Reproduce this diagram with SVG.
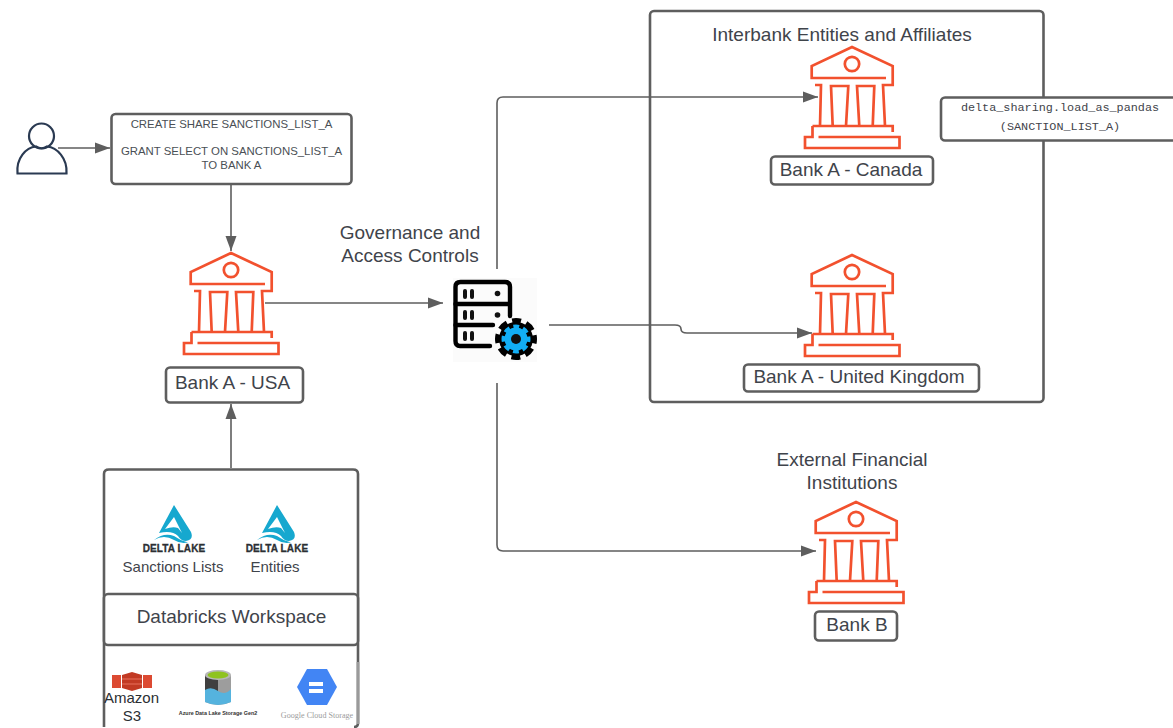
<svg xmlns="http://www.w3.org/2000/svg" width="1173" height="728" viewBox="0 0 1173 728">
<style>
text{font-family:"Liberation Sans",Arial,sans-serif;fill:#3f444b;text-anchor:middle}
.box{fill:#fff;stroke:#5e5e5e;stroke-width:2.6}
.bank{fill:none;stroke:#f2512e;stroke-width:2.7}
.c{fill:none;stroke:#5e5e5e;stroke-width:1.6}
.l{font-size:19px}
.m{font-size:11.4px;fill:#4a4f55}
.mono{font-family:"Liberation Mono",monospace;font-size:11.8px}
.dl{font-size:10px;font-weight:bold;fill:#2b2f33;letter-spacing:.1px;stroke:#2b2f33;stroke-width:.3}
.dm{fill:#16a8cf}
</style>
<defs>
<marker id="a" markerUnits="userSpaceOnUse" markerWidth="16" markerHeight="12" refX="15" refY="6" orient="auto"><path d="M0,0.5L15,6L0,11.5z" fill="#5e5e5e"/></marker>
<symbol id="bankI" overflow="visible" viewBox="-50 -2 100 106" width="100" height="106">
<path class="bank" d="M34,31H-40.3V19L0,0L40.7,19V38H31L33,79M-37,38H-31L-32,79M-19.300,79L-21,39H-3.700L-6,79M7.300,79L5,39H22.300L20.700,79M-39.500,79H40.700V85M-39.500,79V90H-47V101H47.500V90H-33.500"/>
<circle class="bank" cx="0" cy="17" r="7.200"/>
</symbol>
<symbol id="deltaI" overflow="visible" viewBox="0 0 42 38" width="42" height="38">
<path class="dm" fill-rule="evenodd" d="M20,0L37,27Q40,35 32,36Q27,36 24,31Q18,25 5,28ZM20,12L11,24Q19,21 24,23L28,28Z"/>
<path class="dm" d="M0,35Q10,27 20,31Q27,36 34,37.500Q26,39 20,35Q10,29 0,35Z"/>
</symbol>
</defs>

<g id="connectors">
<path class="c" d="M58,148H110" marker-end="url(#a)"/>
<path class="c" d="M231,184V251" marker-end="url(#a)"/>
<path class="c" d="M265,303H443" marker-end="url(#a)"/>
<path class="c" d="M231,468V404" marker-end="url(#a)"/>
<path class="c" d="M497,269V103Q497,97 503,97H818" marker-end="url(#a)"/>
<path class="c" d="M549,325H675Q681,325 681,329Q681,333 687,333H812" marker-end="url(#a)"/>
<path class="c" d="M497,383V545Q497,551 503,551H816" marker-end="url(#a)"/>
</g>

<g id="group-interbank">
<rect x="650" y="11" width="393.500" height="391" rx="4" fill="none" stroke="#5e5e5e" stroke-width="2.600"/>
<text class="l" x="842" y="40.500">Interbank Entities and Affiliates</text>
</g>

<g id="user">
<circle cx="41.500" cy="136" r="12.500" fill="#fff" stroke="#2a3a52" stroke-width="2.200"/>
<path d="M17.500,173.500C16,158 26,147.500 36,146.500Q41.500,150 47,146.500C57,147.500 67.500,158 66.500,173.500Z" fill="none" stroke="#2a3a52" stroke-width="2.200"/>
</g>

<g id="command-box">
<rect class="box" x="111.500" y="114" width="240" height="70" rx="4"/>
<text class="m" x="231.500" y="128">CREATE SHARE SANCTIONS_LIST_A</text>
<text class="m" x="231.500" y="155">GRANT SELECT ON SANCTIONS_LIST_A</text>
<text class="m" x="231.500" y="169">TO BANK A</text>
</g>

<g id="bank-usa">
<use href="#bankI" x="181" y="251"/>
<rect class="box" x="166" y="367.500" width="137" height="35" rx="4"/>
<text class="l" x="232.500" y="389">Bank A - USA</text>
</g>

<g id="governance">
<text class="l" x="410" y="238.500">Governance and</text>
<text class="l" x="410" y="261.500">Access Controls</text>
<rect x="453" y="278" width="84" height="84" fill="#fbfbfb"/>
<g fill="none" stroke="#000" stroke-width="4.400" stroke-linecap="round">
<path d="M490,346H460Q455.500,346 455.500,341V287Q455.500,282 460.500,282H505Q510,282 510,287V316"/>
<path d="M455.500,304H509M455.500,325H493"/>
</g>
<g fill="#111">
<rect x="463" y="289" width="4" height="10" rx="2"/><rect x="470" y="289" width="4" height="10" rx="2"/><circle cx="497.500" cy="293.500" r="2.800"/>
<rect x="463" y="310" width="4" height="10" rx="2"/><rect x="470" y="310" width="4" height="10" rx="2"/><circle cx="497.500" cy="315" r="2.800"/>
<rect x="463" y="331" width="4" height="10" rx="2"/><rect x="470" y="331" width="4" height="10" rx="2"/>
</g>
<circle cx="516" cy="339" r="17" fill="#000"/>
<circle cx="516" cy="339" r="18.500" fill="none" stroke="#000" stroke-width="5" stroke-dasharray="9 5.530" stroke-dashoffset="4.500"/>
<circle cx="516" cy="339" r="11.500" fill="#12aef5"/>
<circle cx="516" cy="339" r="12.500" fill="none" stroke="#12aef5" stroke-width="4" stroke-dasharray="5.800 4" stroke-dashoffset="2.900"/>
<circle cx="516" cy="339" r="5" fill="#111"/>
</g>

<g id="bank-canada">
<use href="#bankI" x="802" y="45"/>
<rect class="box" x="771" y="156.500" width="162" height="28" rx="4"/>
<text class="l" x="851" y="176">Bank A - Canada</text>
</g>

<g id="delta-sharing-note">
<rect class="box" x="941" y="97.500" width="240" height="43" rx="4"/>
<text class="mono" x="1060" y="111">delta_sharing.load_as_pandas</text>
<text class="mono" x="1060" y="130">(SANCTION_LIST_A)</text>
</g>

<g id="bank-uk">
<use href="#bankI" x="802" y="253"/>
<rect class="box" x="744" y="364.500" width="235" height="27" rx="4"/>
<text class="l" x="859" y="383">Bank A - United Kingdom</text>
</g>

<g id="bank-b">
<use href="#bankI" x="806" y="500"/>
<text class="l" x="852" y="466">External Financial</text>
<text class="l" x="852" y="489">Institutions</text>
<rect class="box" x="815" y="611.500" width="82" height="29" rx="4"/>
<text class="l" x="857" y="631">Bank B</text>
</g>

<g id="workspace">
<path class="box" d="M104,727V474Q104,469.500 109,469.500H353Q358,469.500 358,474V723Q358,727 354,727" fill="#fff"/>
<use href="#deltaI" x="154" y="505"/>
<text class="dl" x="174" y="552">DELTA LAKE</text>
<text x="173" y="572" font-size="15">Sanctions Lists</text>
<use href="#deltaI" x="257" y="505"/>
<text class="dl" x="277" y="552">DELTA LAKE</text>
<text x="275" y="572" font-size="15">Entities</text>
<path d="M358,662V724" stroke="#9a9a9a" stroke-width="2.800"/>
<rect class="box" x="104" y="594" width="254" height="51" rx="4"/>
<text class="l" x="231.500" y="623">Databricks Workspace</text>
</g>

<g id="storage">
<g id="s3">
<rect x="112" y="675" width="9" height="13" fill="#dc4a32"/>
<rect x="143" y="675" width="9" height="13" fill="#dc4a32"/>
<path d="M122,675L132,672L142,675V688L132,691L122,688Z" fill="#c23a24"/>
<path d="M122,679H142M122,684H142" stroke="#e8715d" stroke-width="1"/>
<text x="131.500" y="703" font-size="15" style="fill:#2b2f33">Amazon</text>
<text x="132" y="721" font-size="15" style="fill:#2b2f33">S3</text>
</g>
<g id="azure">
<path d="M205,675H231V702Q218,708 205,702Z" fill="#9d9d9d"/>
<path d="M205,675H218V694L205,690Z" fill="#3f3f3f"/>
<path d="M205,690Q211,686 218,691T231,689V702Q218,708 205,702Z" fill="#55b3de"/>
<ellipse cx="218" cy="675" rx="13" ry="5" fill="#b8b8b8"/>
<ellipse cx="218" cy="675" rx="10.500" ry="3.500" fill="#8fc31f"/>
<text x="218" y="715" font-size="5.400" font-weight="bold" style="fill:#333">Azure Data Lake Storage Gen2</text>
</g>
<g id="gcs">
<path d="M307,669H327L337,687L327,705H307L297,687Z" fill="#4285f4"/>
<path d="M309,682H323V686H309ZM309,689H323V693H309Z" fill="#fff"/>
<text x="317" y="718" font-size="8.100" style="font-family:'Liberation Serif',serif;fill:#9c9c9c">Google Cloud Storage</text>
</g>
</g>
</svg>
